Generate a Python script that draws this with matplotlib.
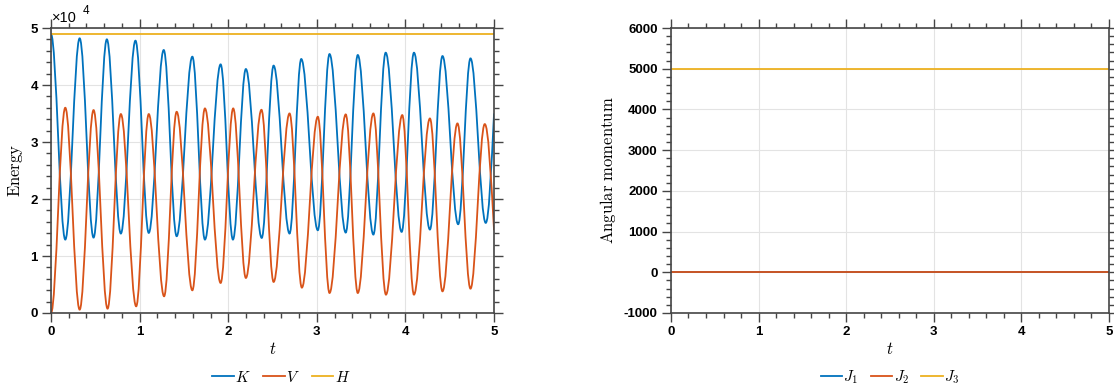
import matplotlib
matplotlib.use("Agg")
import matplotlib.pyplot as plt
from matplotlib.path import Path
from matplotlib.patches import PathPatch
from matplotlib.lines import Line2D
from matplotlib.ticker import MultipleLocator, FuncFormatter

# extrema of the curves (t, value)
t_K = [0, 0.161, 0.323, 0.48, 0.63, 0.788, 0.953, 1.103, 1.272, 1.418, 1.595, 1.737,
       1.914, 2.053, 2.199, 2.378, 2.512, 2.692, 2.824, 3.011, 3.143, 3.326, 3.462,
       3.638, 3.777, 3.957, 4.096, 4.276, 4.418, 4.595, 4.734, 4.906, 5.0]
K = [48900, 12880, 48190, 13230, 48010, 13940, 47780, 14050, 46140, 13470, 44970, 12880,
     43620, 12880, 42800, 13170, 43400, 13940, 44560, 14520, 45430, 14110, 45260,
     13760, 45670, 14230, 45670, 14640, 45080, 15570, 44670, 15810, 35010]

t_V = [0, 0.161, 0.323, 0.48, 0.638, 0.788, 0.961, 1.103, 1.276, 1.418, 1.595, 1.737,
       1.914, 2.056, 2.199, 2.375, 2.512, 2.692, 2.831, 3.011, 3.143, 3.326, 3.462,
       3.638, 3.78, 3.964, 4.096, 4.276, 4.418, 4.587, 4.734, 4.895, 5.0]
V = [0, 36010, 590, 35600, 760, 34900, 1170, 34900, 2930, 35300, 3980, 35890,
     5270, 35890, 6150, 35650, 5450, 35010, 4450, 34430, 3510, 34840, 3510,
     35010, 3220, 34720, 3220, 34130, 3800, 33260, 4270, 33140, 14520]

t_H = [0, 5]
H = [48900, 48900]

t_J = [0, 5]
J1 = [0, 0]
J2 = [0, 0]
J3 = [5000, 5000]

blue, red, yellow = "#0072BD", "#D95319", "#EDB120"
axcol = "#454545"

plt.rcParams["mathtext.fontset"] = "cm"
plt.rcParams["axes.unicode_minus"] = False
plt.rcParams["font.family"] = ["Liberation Sans", "DejaVu Sans"]


def smooth_path(t, v, a=0.364):
    # cubic bezier pieces between extrema, flat at each extremum
    verts = [(t[0], v[0])]
    codes = [Path.MOVETO]
    n = len(t)
    for i in range(n - 1):
        dt = t[i + 1] - t[i]
        c1 = (t[i] + a * dt, v[i])
        if i == n - 2:
            c2 = (t[i + 1] - a * dt, v[i + 1] - 1.5 * a * (v[i + 1] - v[i]))
        else:
            c2 = (t[i + 1] - a * dt, v[i + 1])
        verts += [c1, c2, (t[i + 1], v[i + 1])]
        codes += [Path.CURVE4] * 3
    return Path(verts, codes)


def style(ax, ymin, ymax, ymaj, ymin_step):
    ax.set_xlim(0, 5)
    ax.set_ylim(ymin, ymax)
    ax.xaxis.set_major_locator(MultipleLocator(1))
    ax.xaxis.set_minor_locator(MultipleLocator(0.2))
    ax.yaxis.set_major_locator(MultipleLocator(ymaj))
    ax.yaxis.set_minor_locator(MultipleLocator(ymin_step))
    ax.tick_params(which="both", direction="out", top=True, right=True,
                   color=axcol, width=1.0, labelsize=9.5)
    ax.tick_params(which="major", length=6.5)
    ax.tick_params(which="minor", length=3.4)
    ax.tick_params(axis="x", pad=3)
    ax.tick_params(axis="y", pad=3)
    for s in ax.spines.values():
        s.set_color(axcol)
        s.set_linewidth(1.2)
    ax.grid(True, color="#e3e3e3", lw=0.8)
    ax.set_axisbelow(True)
    ax.set_xlabel("$t$", fontsize=12)
    ax.xaxis.set_label_coords(0.5, -0.1)


fig = plt.figure(figsize=(11.14, 3.88), dpi=100)
ax1 = fig.add_axes([0.0458, 0.1933, 0.3977, 0.7345])
ax2 = fig.add_axes([0.6023, 0.1933, 0.3932, 0.7345])

# energy
ax1.add_patch(PathPatch(smooth_path(t_K, K), fill=False, edgecolor=blue, lw=1.3))
ax1.add_patch(PathPatch(smooth_path(t_V, V), fill=False, edgecolor=red, lw=1.3))
ax1.plot(t_H, H, color=yellow, lw=1.3)
style(ax1, 0, 50000, 10000, 2000)
ax1.yaxis.set_major_formatter(FuncFormatter(lambda v, p: "%d" % round(v / 1e4)))
ax1.set_ylabel(r"$\mathrm{Energy}$", fontsize=12, labelpad=4)
ax1.text(0.002, 1.01, "×10", transform=ax1.transAxes, fontsize=10.5, va="bottom", ha="left")
ax1.text(0.071, 1.04, "4", transform=ax1.transAxes, fontsize=8.5, va="bottom", ha="left")
h1 = [Line2D([], [], color=c, lw=1.3) for c in (blue, red, yellow)]
ax1.legend(h1, ["$K$", "$V$", "$H$"], loc="center", bbox_to_anchor=(0.52, -0.225),
           ncol=3, frameon=False, fontsize=11, handlelength=1.4, handletextpad=0.1,
           columnspacing=0.8)

# angular momentum
ax2.plot(t_J, J1, color=blue, lw=1.3)
ax2.plot(t_J, J2, color=red, lw=1.3)
ax2.plot(t_J, J3, color=yellow, lw=1.3)
style(ax2, -1000, 6000, 1000, 200)
ax2.set_ylabel(r"$\mathrm{Angular\ momentum}$", fontsize=12, labelpad=4)
h2 = [Line2D([], [], color=c, lw=1.3) for c in (blue, red, yellow)]
ax2.legend(h2, ["$J_1$", "$J_2$", "$J_3$"], loc="center", bbox_to_anchor=(0.5, -0.225),
           ncol=3, frameon=False, fontsize=11, handlelength=1.4, handletextpad=0.1,
           columnspacing=0.8)

for ax in (ax1, ax2):
    for lab in ax.get_xticklabels() + ax.get_yticklabels():
        lab.set_fontweight("bold")

fig.savefig("out.png", dpi=100)
